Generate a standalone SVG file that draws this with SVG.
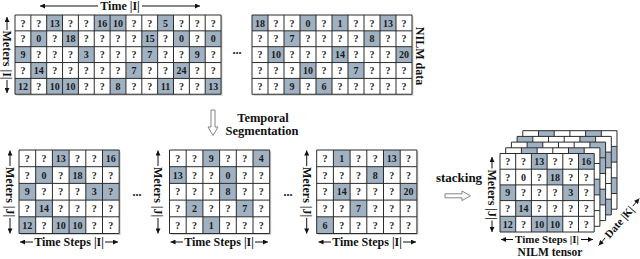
<svg xmlns="http://www.w3.org/2000/svg" xmlns:xlink="http://www.w3.org/1999/xlink" width="640" height="259" viewBox="0 0 640 259">
<style>
.n{font-family:"Liberation Serif","Times New Roman",serif;font-weight:bold;font-size:10px;fill:#1a1a1a;text-anchor:middle}
.lb{font-family:"Liberation Serif","Times New Roman",serif;font-weight:bold;font-size:12px;fill:#111;text-anchor:middle}
.big{font-family:"Liberation Serif","Times New Roman",serif;font-weight:bold;font-size:12.5px;fill:#111;text-anchor:middle}
.sd{fill:#d2d2d2}
.ax{stroke:#111;stroke-width:1;fill:none;marker-end:url(#ah)}
.ha{fill:#fff;stroke:#777;stroke-width:0.9}
</style>
<defs>
<marker id="ah" viewBox="0 0 10 10" refX="10" refY="5" markerWidth="6" markerHeight="5" markerUnits="userSpaceOnUse" orient="auto"><path d="M0,0 L10,5 L0,10 Z" fill="#111"/></marker>
<rect id="c" width="1" height="1" fill="#a0b1c2"/>
<path id="g13" d="M0 0H13V5H0Z M1 0V5M2 0V5M3 0V5M4 0V5M5 0V5M6 0V5M7 0V5M8 0V5M9 0V5M10 0V5M11 0V5M12 0V5 M0 1H13M0 2H13M0 3H13M0 4H13" fill="none" stroke="#2b2b2b" stroke-width="1" vector-effect="non-scaling-stroke"/>
<path id="g10" d="M0 0H10V5H0Z M1 0V5M2 0V5M3 0V5M4 0V5M5 0V5M6 0V5M7 0V5M8 0V5M9 0V5 M0 1H10M0 2H10M0 3H10M0 4H10" fill="none" stroke="#2b2b2b" stroke-width="1" vector-effect="non-scaling-stroke"/>
<path id="g6" d="M0 0H6V5H0Z M1 0V5M2 0V5M3 0V5M4 0V5M5 0V5 M0 1H6M0 2H6M0 3H6M0 4H6" fill="none" stroke="#2b2b2b" stroke-width="1" vector-effect="non-scaling-stroke"/>
</defs>
<rect width="640" height="259" fill="#fff"/>

<g id="nilm-data-1">
<rect class="sd" x="16.5" y="16.5" width="206" height="79.3"/>
<g transform="translate(15,15) scale(15.85)">
<rect width="13" height="5" fill="#fff"/>
<use xlink:href="#c" x="2" y="0"/><use xlink:href="#c" x="5" y="0"/><use xlink:href="#c" x="6" y="0"/><use xlink:href="#c" x="9" y="0"/>
<use xlink:href="#c" x="1" y="1"/><use xlink:href="#c" x="3" y="1"/><use xlink:href="#c" x="8" y="1"/><use xlink:href="#c" x="10" y="1"/><use xlink:href="#c" x="12" y="1"/>
<use xlink:href="#c" x="0" y="2"/><use xlink:href="#c" x="4" y="2"/><use xlink:href="#c" x="8" y="2"/><use xlink:href="#c" x="11" y="2"/>
<use xlink:href="#c" x="1" y="3"/><use xlink:href="#c" x="7" y="3"/><use xlink:href="#c" x="10" y="3"/>
<use xlink:href="#c" x="0" y="4"/><use xlink:href="#c" x="2" y="4"/><use xlink:href="#c" x="3" y="4"/><use xlink:href="#c" x="6" y="4"/><use xlink:href="#c" x="9" y="4"/><use xlink:href="#c" x="12" y="4"/>
<use xlink:href="#g13"/>
</g>
<text class="n" y="26.5"><tspan x="22.93">?</tspan><tspan x="38.78">?</tspan><tspan x="54.63">13</tspan><tspan x="70.48">?</tspan><tspan x="86.33">?</tspan><tspan x="102.18">16</tspan><tspan x="118.03">10</tspan><tspan x="133.88">?</tspan><tspan x="149.73">?</tspan><tspan x="165.58">5</tspan><tspan x="181.43">?</tspan><tspan x="197.28">?</tspan><tspan x="213.13">?</tspan></text>
<text class="n" y="42.3"><tspan x="22.93">?</tspan><tspan x="38.78">0</tspan><tspan x="54.63">?</tspan><tspan x="70.48">18</tspan><tspan x="86.33">?</tspan><tspan x="102.18">?</tspan><tspan x="118.03">?</tspan><tspan x="133.88">?</tspan><tspan x="149.73">15</tspan><tspan x="165.58">?</tspan><tspan x="181.43">0</tspan><tspan x="197.28">?</tspan><tspan x="213.13">0</tspan></text>
<text class="n" y="58.2"><tspan x="22.93">9</tspan><tspan x="38.78">?</tspan><tspan x="54.63">?</tspan><tspan x="70.48">?</tspan><tspan x="86.33">3</tspan><tspan x="102.18">?</tspan><tspan x="118.03">?</tspan><tspan x="133.88">?</tspan><tspan x="149.73">7</tspan><tspan x="165.58">?</tspan><tspan x="181.43">?</tspan><tspan x="197.28">9</tspan><tspan x="213.13">?</tspan></text>
<text class="n" y="74.0"><tspan x="22.93">?</tspan><tspan x="38.78">14</tspan><tspan x="54.63">?</tspan><tspan x="70.48">?</tspan><tspan x="86.33">?</tspan><tspan x="102.18">?</tspan><tspan x="118.03">?</tspan><tspan x="133.88">7</tspan><tspan x="149.73">?</tspan><tspan x="165.58">?</tspan><tspan x="181.43">24</tspan><tspan x="197.28">?</tspan><tspan x="213.13">?</tspan></text>
<text class="n" y="89.9"><tspan x="22.93">12</tspan><tspan x="38.78">?</tspan><tspan x="54.63">10</tspan><tspan x="70.48">10</tspan><tspan x="86.33">?</tspan><tspan x="102.18">?</tspan><tspan x="118.03">8</tspan><tspan x="133.88">?</tspan><tspan x="149.73">?</tspan><tspan x="165.58">11</tspan><tspan x="181.43">?</tspan><tspan x="197.28">?</tspan><tspan x="213.13">13</tspan></text>
<text class="lb" x="120" y="10">Time |I|</text>
<text class="lb" transform="translate(7,55) rotate(90)" y="4">Meters |I|</text>
</g>

<text class="lb" x="237" y="53.5">...</text>

<g id="nilm-data-2">
<rect class="sd" x="253.5" y="16.5" width="160" height="79.3"/>
<g transform="translate(252,15) scale(16,15.85)">
<rect width="10" height="5" fill="#fff"/>
<use xlink:href="#c" x="0" y="0"/><use xlink:href="#c" x="3" y="0"/><use xlink:href="#c" x="5" y="0"/><use xlink:href="#c" x="8" y="0"/>
<use xlink:href="#c" x="2" y="1"/><use xlink:href="#c" x="7" y="1"/>
<use xlink:href="#c" x="1" y="2"/><use xlink:href="#c" x="5" y="2"/><use xlink:href="#c" x="9" y="2"/>
<use xlink:href="#c" x="3" y="3"/><use xlink:href="#c" x="6" y="3"/>
<use xlink:href="#c" x="2" y="4"/><use xlink:href="#c" x="4" y="4"/>
<use xlink:href="#g10"/>
</g>
<text class="n" y="26.5"><tspan x="260">18</tspan><tspan x="276">?</tspan><tspan x="292">?</tspan><tspan x="308">0</tspan><tspan x="324">?</tspan><tspan x="340">1</tspan><tspan x="356">?</tspan><tspan x="372">?</tspan><tspan x="388">13</tspan><tspan x="404">?</tspan></text>
<text class="n" y="42.3"><tspan x="260">?</tspan><tspan x="276">?</tspan><tspan x="292">7</tspan><tspan x="308">?</tspan><tspan x="324">?</tspan><tspan x="340">?</tspan><tspan x="356">?</tspan><tspan x="372">8</tspan><tspan x="388">?</tspan><tspan x="404">?</tspan></text>
<text class="n" y="58.2"><tspan x="260">?</tspan><tspan x="276">10</tspan><tspan x="292">?</tspan><tspan x="308">?</tspan><tspan x="324">?</tspan><tspan x="340">14</tspan><tspan x="356">?</tspan><tspan x="372">?</tspan><tspan x="388">?</tspan><tspan x="404">20</tspan></text>
<text class="n" y="74.0"><tspan x="260">?</tspan><tspan x="276">?</tspan><tspan x="292">?</tspan><tspan x="308">10</tspan><tspan x="324">?</tspan><tspan x="340">?</tspan><tspan x="356">7</tspan><tspan x="372">?</tspan><tspan x="388">?</tspan><tspan x="404">?</tspan></text>
<text class="n" y="89.9"><tspan x="260">?</tspan><tspan x="276">?</tspan><tspan x="292">9</tspan><tspan x="308">?</tspan><tspan x="324">6</tspan><tspan x="340">?</tspan><tspan x="356">?</tspan><tspan x="372">?</tspan><tspan x="388">?</tspan><tspan x="404">?</tspan></text>
<text class="lb" transform="translate(420,56) rotate(90)" y="4">NILM data</text>
</g>

<g id="segmentation-label">
<text class="big" x="263" y="121.5">Temporal</text>
<text class="big" x="262" y="134.5">Segmentation</text>
</g>

<g id="segment-1">
<rect class="sd" x="20.5" y="151.5" width="100.2" height="83.5"/>
<g transform="translate(19,150) scale(16.7)">
<rect width="6" height="5" fill="#fff"/>
<use xlink:href="#c" x="2" y="0"/><use xlink:href="#c" x="5" y="0"/>
<use xlink:href="#c" x="1" y="1"/><use xlink:href="#c" x="3" y="1"/>
<use xlink:href="#c" x="0" y="2"/><use xlink:href="#c" x="4" y="2"/><use xlink:href="#c" x="5" y="2"/>
<use xlink:href="#c" x="1" y="3"/>
<use xlink:href="#c" x="0" y="4"/><use xlink:href="#c" x="2" y="4"/><use xlink:href="#c" x="3" y="4"/>
<use xlink:href="#g6"/>
</g>
<text class="n" y="162"><tspan x="27.35">?</tspan><tspan x="44.05">?</tspan><tspan x="60.75">13</tspan><tspan x="77.45">?</tspan><tspan x="94.15">?</tspan><tspan x="110.85">16</tspan></text>
<text class="n" y="178.7"><tspan x="27.35">?</tspan><tspan x="44.05">0</tspan><tspan x="60.75">?</tspan><tspan x="77.45">18</tspan><tspan x="94.15">?</tspan><tspan x="110.85">?</tspan></text>
<text class="n" y="195.4"><tspan x="27.35">9</tspan><tspan x="44.05">?</tspan><tspan x="60.75">?</tspan><tspan x="77.45">?</tspan><tspan x="94.15">3</tspan><tspan x="110.85">?</tspan></text>
<text class="n" y="212.1"><tspan x="27.35">?</tspan><tspan x="44.05">14</tspan><tspan x="60.75">?</tspan><tspan x="77.45">?</tspan><tspan x="94.15">?</tspan><tspan x="110.85">?</tspan></text>
<text class="n" y="228.8"><tspan x="27.35">12</tspan><tspan x="44.05">?</tspan><tspan x="60.75">10</tspan><tspan x="77.45">10</tspan><tspan x="94.15">?</tspan><tspan x="110.85">?</tspan></text>
<text class="lb" transform="translate(10,192) rotate(90)" y="4">Meters |J|</text>
<text class="lb" x="69" y="246.3">Time Steps |I|</text>
</g>

<text class="lb" x="137" y="195.5">...</text>

<g id="segment-2">
<rect class="sd" x="171" y="151.5" width="100.2" height="83.5"/>
<g transform="translate(169.5,150) scale(16.7)">
<rect width="6" height="5" fill="#fff"/>
<use xlink:href="#c" x="2" y="0"/><use xlink:href="#c" x="5" y="0"/>
<use xlink:href="#c" x="0" y="1"/><use xlink:href="#c" x="3" y="1"/>
<use xlink:href="#c" x="3" y="2"/>
<use xlink:href="#c" x="1" y="3"/><use xlink:href="#c" x="4" y="3"/>
<use xlink:href="#c" x="2" y="4"/>
<use xlink:href="#g6"/>
</g>
<text class="n" y="162"><tspan x="177.85">?</tspan><tspan x="194.55">?</tspan><tspan x="211.25">9</tspan><tspan x="227.95">?</tspan><tspan x="244.65">?</tspan><tspan x="261.35">4</tspan></text>
<text class="n" y="178.7"><tspan x="177.85">13</tspan><tspan x="194.55">?</tspan><tspan x="211.25">?</tspan><tspan x="227.95">0</tspan><tspan x="244.65">?</tspan><tspan x="261.35">?</tspan></text>
<text class="n" y="195.4"><tspan x="177.85">?</tspan><tspan x="194.55">?</tspan><tspan x="211.25">?</tspan><tspan x="227.95">8</tspan><tspan x="244.65">?</tspan><tspan x="261.35">?</tspan></text>
<text class="n" y="212.1"><tspan x="177.85">?</tspan><tspan x="194.55">2</tspan><tspan x="211.25">?</tspan><tspan x="227.95">?</tspan><tspan x="244.65">7</tspan><tspan x="261.35">?</tspan></text>
<text class="n" y="228.8"><tspan x="177.85">?</tspan><tspan x="194.55">?</tspan><tspan x="211.25">1</tspan><tspan x="227.95">?</tspan><tspan x="244.65">?</tspan><tspan x="261.35">?</tspan></text>
<text class="lb" transform="translate(158,192) rotate(90)" y="4">Meters |J|</text>
<text class="lb" x="219" y="246.3">Time Steps |I|</text>
</g>

<text class="lb" x="288" y="195.5">...</text>

<g id="segment-3">
<rect class="sd" x="318.2" y="151.5" width="100.2" height="83.5"/>
<g transform="translate(316.7,150) scale(16.7)">
<rect width="6" height="5" fill="#fff"/>
<use xlink:href="#c" x="1" y="0"/><use xlink:href="#c" x="4" y="0"/>
<use xlink:href="#c" x="3" y="1"/>
<use xlink:href="#c" x="1" y="2"/><use xlink:href="#c" x="5" y="2"/>
<use xlink:href="#c" x="2" y="3"/>
<use xlink:href="#c" x="0" y="4"/>
<use xlink:href="#g6"/>
</g>
<text class="n" y="162"><tspan x="325.05">?</tspan><tspan x="341.75">1</tspan><tspan x="358.45">?</tspan><tspan x="375.15">?</tspan><tspan x="391.85">13</tspan><tspan x="408.55">?</tspan></text>
<text class="n" y="178.7"><tspan x="325.05">?</tspan><tspan x="341.75">?</tspan><tspan x="358.45">?</tspan><tspan x="375.15">8</tspan><tspan x="391.85">?</tspan><tspan x="408.55">?</tspan></text>
<text class="n" y="195.4"><tspan x="325.05">?</tspan><tspan x="341.75">14</tspan><tspan x="358.45">?</tspan><tspan x="375.15">?</tspan><tspan x="391.85">?</tspan><tspan x="408.55">20</tspan></text>
<text class="n" y="212.1"><tspan x="325.05">?</tspan><tspan x="341.75">?</tspan><tspan x="358.45">7</tspan><tspan x="375.15">?</tspan><tspan x="391.85">?</tspan><tspan x="408.55">?</tspan></text>
<text class="n" y="228.8"><tspan x="325.05">6</tspan><tspan x="341.75">?</tspan><tspan x="358.45">?</tspan><tspan x="375.15">?</tspan><tspan x="391.85">?</tspan><tspan x="408.55">?</tspan></text>
<text class="lb" transform="translate(306.7,192) rotate(90)" y="4">Meters |J|</text>
<text class="lb" x="367" y="246.3">Time Steps |I|</text>
</g>

<text class="big" id="stacking-label" x="459" y="182" style="font-size:13px">stacking</text>

<g id="nilm-tensor">
<g transform="translate(522.8,130.7) scale(15.7)">
<rect width="6" height="5" fill="#fff"/>
<use xlink:href="#c" x="1" y="0"/><use xlink:href="#c" x="4" y="0"/><use xlink:href="#c" x="5" y="1"/><use xlink:href="#c" x="5" y="3"/>
<use xlink:href="#g6"/>
</g>
<g transform="translate(517.1,136.4) scale(15.7)">
<rect width="6" height="5" fill="#fff"/>
<use xlink:href="#c" x="0" y="0"/><use xlink:href="#c" x="4" y="0"/><use xlink:href="#c" x="5" y="1"/><use xlink:href="#c" x="5" y="4"/>
<use xlink:href="#g6"/>
</g>
<g transform="translate(511.4,142.1) scale(15.7)">
<rect width="6" height="5" fill="#fff"/>
<use xlink:href="#c" x="1" y="0"/><use xlink:href="#c" x="5" y="0"/><use xlink:href="#c" x="5" y="1"/><use xlink:href="#c" x="5" y="3"/>
<use xlink:href="#g6"/>
</g>
<g transform="translate(505.7,147.8) scale(15.7)">
<rect width="6" height="5" fill="#fff"/>
<use xlink:href="#c" x="1" y="0"/><use xlink:href="#c" x="4" y="0"/><use xlink:href="#c" x="5" y="2"/>
<use xlink:href="#g6"/>
</g>
<g transform="translate(500,153.5) scale(15.7)">
<rect width="6" height="5" fill="#fff"/>
<use xlink:href="#c" x="2" y="0"/><use xlink:href="#c" x="5" y="0"/>
<use xlink:href="#c" x="3" y="1"/>
<use xlink:href="#c" x="0" y="2"/><use xlink:href="#c" x="4" y="2"/>
<use xlink:href="#c" x="1" y="3"/>
<use xlink:href="#c" x="0" y="4"/><use xlink:href="#c" x="2" y="4"/><use xlink:href="#c" x="3" y="4"/>
<use xlink:href="#g6"/>
</g>
<text class="n" y="164.95"><tspan x="507.85">?</tspan><tspan x="523.55">?</tspan><tspan x="539.25">13</tspan><tspan x="554.95">?</tspan><tspan x="570.65">?</tspan><tspan x="586.35">16</tspan></text>
<text class="n" y="180.65"><tspan x="507.85">?</tspan><tspan x="523.55">0</tspan><tspan x="539.25">?</tspan><tspan x="554.95">18</tspan><tspan x="570.65">?</tspan><tspan x="586.35">?</tspan></text>
<text class="n" y="196.35"><tspan x="507.85">9</tspan><tspan x="523.55">?</tspan><tspan x="539.25">?</tspan><tspan x="554.95">?</tspan><tspan x="570.65">3</tspan><tspan x="586.35">?</tspan></text>
<text class="n" y="212.05"><tspan x="507.85">?</tspan><tspan x="523.55">14</tspan><tspan x="539.25">?</tspan><tspan x="554.95">?</tspan><tspan x="570.65">?</tspan><tspan x="586.35">?</tspan></text>
<text class="n" y="227.75"><tspan x="507.85">12</tspan><tspan x="523.55">?</tspan><tspan x="539.25">10</tspan><tspan x="554.95">10</tspan><tspan x="570.65">?</tspan><tspan x="586.35">?</tspan></text>
<text class="lb" transform="translate(492,194.5) rotate(90)" y="4">Meters |J|</text>
<text class="lb" x="547" y="243.3" style="font-size:11px">Time Steps |I|</text>
<text class="lb" transform="translate(619,222) rotate(-49)" y="4" style="font-size:11px">Date |K|</text>
<text class="big" x="550" y="256" style="font-size:11.5px">NILM tensor</text>
</g>

<g id="connectors">
<line class="ax" x1="98" y1="6" x2="40" y2="6"/><line class="ax" x1="142" y1="6" x2="200" y2="6"/>
<line class="ax" x1="7" y1="30" x2="7" y2="17"/><line class="ax" x1="7" y1="80" x2="7" y2="93"/>
<line class="ax" x1="10" y1="166" x2="10" y2="150.5"/><line class="ax" x1="10" y1="218" x2="10" y2="233.5"/>
<line class="ax" x1="33" y1="242" x2="20" y2="242"/><line class="ax" x1="105" y1="242" x2="118" y2="242"/>
<line class="ax" x1="158" y1="166" x2="158" y2="150.5"/><line class="ax" x1="158" y1="218" x2="158" y2="233.5"/>
<line class="ax" x1="183" y1="242" x2="170.5" y2="242"/><line class="ax" x1="255" y1="242" x2="268" y2="242"/>
<line class="ax" x1="306.7" y1="166" x2="306.7" y2="150.5"/><line class="ax" x1="306.7" y1="218" x2="306.7" y2="233.5"/>
<line class="ax" x1="331" y1="242" x2="318.5" y2="242"/><line class="ax" x1="403" y1="242" x2="416" y2="242"/>
<line class="ax" x1="492" y1="168.5" x2="492" y2="157"/><line class="ax" x1="492" y1="220.5" x2="492" y2="232"/>
<line class="ax" x1="513" y1="239.5" x2="501" y2="239.5"/><line class="ax" x1="581" y1="239.5" x2="593" y2="239.5"/>
<line class="ax" x1="605.2" y1="237.9" x2="598.7" y2="245.4"/><line class="ax" x1="632.8" y1="206.1" x2="639.3" y2="198.6"/>
<polygon class="ha" points="211,110 215,110 215,127 218,127 213,135.5 208,127 211,127"/>
<polygon class="ha" points="445,193.8 462,193.8 462,191 470.5,195.8 462,200.6 462,197.8 445,197.8"/>
</g>
</svg>
